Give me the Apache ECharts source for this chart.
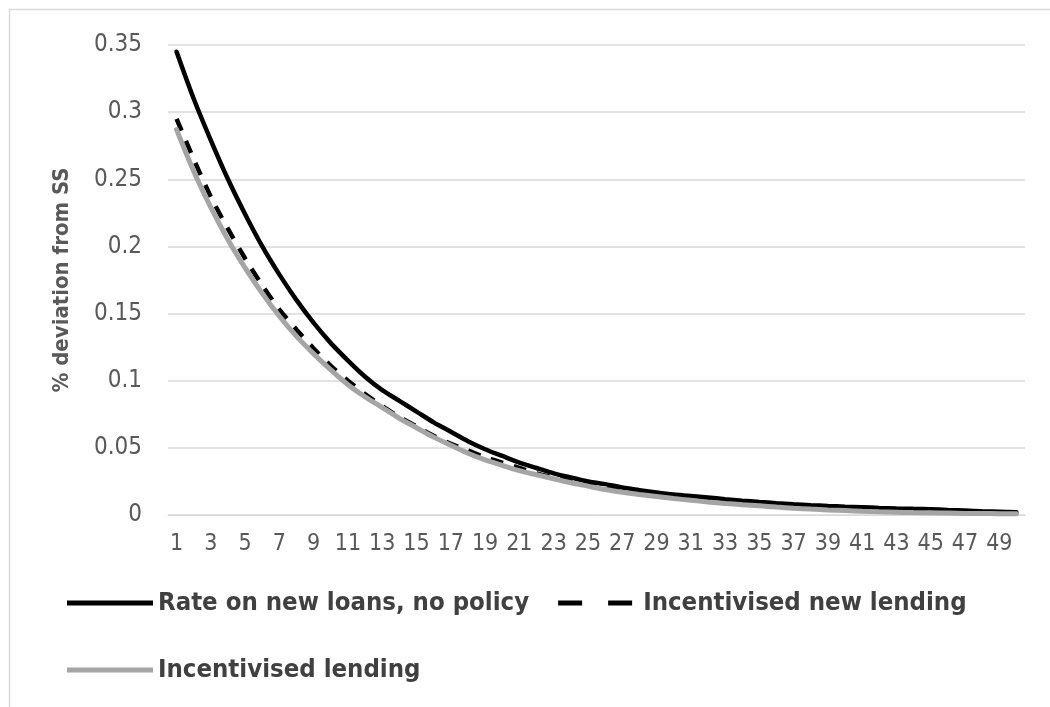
<!DOCTYPE html>
<html>
<head>
<meta charset="utf-8">
<script src="https://cdn.jsdelivr.net/npm/echarts@6/dist/echarts.min.js"></script>
<style>html,body{margin:0;padding:0;background:#fff}#c{width:1050px;height:707px}</style>
</head>
<body>
<div id="c"></div>
<script>
var categories = [];
for (var i = 1; i <= 50; i++) categories.push(String(i));

var yTicks = [0, 0.05, 0.1, 0.15, 0.2, 0.25, 0.3, 0.35];

var seriesNames = ['Rate on new loans, no policy', 'Incentivised new lending', 'Incentivised lending'];

var rateNoPolicy = [0.345, 0.310, 0.279, 0.250, 0.224, 0.200, 0.179, 0.160, 0.143, 0.128,
  0.115, 0.103, 0.093, 0.085, 0.077, 0.069, 0.062, 0.055, 0.049, 0.044,
  0.039, 0.035, 0.031, 0.028, 0.025, 0.023, 0.0205, 0.0185, 0.0167, 0.0152,
  0.0142, 0.013, 0.0118, 0.0107, 0.0097, 0.0088, 0.008, 0.0073, 0.0067, 0.0062,
  0.0058, 0.0053, 0.0049, 0.0046, 0.0043, 0.0038, 0.0033, 0.0028, 0.0024, 0.002];

var incentNewLending = [0.295, 0.265, 0.237, 0.213, 0.191, 0.171, 0.153, 0.138, 0.124, 0.111,
  0.100, 0.090, 0.081, 0.073, 0.066, 0.059, 0.053, 0.048, 0.043, 0.039,
  0.035, 0.031, 0.028, 0.025, 0.023, 0.020, 0.018, 0.016, 0.015, 0.013,
  0.012, 0.011, 0.0095, 0.0085, 0.0077, 0.007, 0.006, 0.0055, 0.005, 0.0045,
  0.004, 0.0036, 0.0032, 0.003, 0.0027, 0.0024, 0.0022, 0.002, 0.0018, 0.0016];

var incentLending = [0.287, 0.256, 0.229, 0.205, 0.184, 0.165, 0.148, 0.133, 0.120, 0.108,
  0.097, 0.088, 0.080, 0.072, 0.065, 0.058, 0.052, 0.046, 0.041, 0.037,
  0.033, 0.030, 0.027, 0.024, 0.0215, 0.019, 0.017, 0.0153, 0.0138, 0.0123,
  0.011, 0.0097, 0.0086, 0.0077, 0.0069, 0.0059, 0.0051, 0.0044, 0.0038, 0.0033,
  0.0028, 0.0024, 0.0021, 0.0018, 0.0016, 0.0014, 0.0012, 0.0011, 0.001, 0.001];

var FONT = '"DejaVu Sans Condensed", "Liberation Sans Narrow", "Open Sans", sans-serif';
var chart = echarts.init(document.getElementById('c'), null, {renderer: 'canvas'});
var legendText = {color: '#404040', fontSize: 25.5, fontWeight: 'bold', fontFamily: FONT};
var solidIcon = 'path://M0,0h86v5h-86z';
var dashIcon = 'path://M0,0h24v5h-24z M50,0h24v5h-24z';

chart.setOption({
  animation: false,
  backgroundColor: '#fff',
  graphic: [{
    type: 'rect', silent: true, z: -1,
    shape: {x: 9.5, y: 9.5, width: 1200, height: 900},
    style: {fill: 'none', stroke: '#d9d9d9', lineWidth: 1.5}
  }],
  grid: {left: 168, right: 25, top: 45, bottom: 192, containLabel: false},
  legend: [{
    data: [
      {name: seriesNames[0], icon: solidIcon},
      {name: seriesNames[1], icon: dashIcon}
    ],
    left: 67, top: 590, itemWidth: 86, itemHeight: 5, itemGap: 29,
    textStyle: legendText, padding: 0
  }, {
    data: [{name: seriesNames[2], icon: solidIcon}],
    left: 67, top: 657, itemWidth: 86, itemHeight: 5, itemGap: 29,
    textStyle: legendText, padding: 0
  }],
  xAxis: {
    type: 'category',
    data: categories,
    boundaryGap: true,
    axisLine: {lineStyle: {color: '#d9d9d9', width: 1}},
    axisTick: {show: false},
    axisLabel: {interval: 1, color: '#595959', fontSize: 23, fontFamily: FONT, margin: 18},
    splitLine: {show: false}
  },
  yAxis: {
    type: 'value',
    min: yTicks[0], max: yTicks[yTicks.length - 1], interval: 0.05,
    name: '% deviation from SS',
    nameLocation: 'middle', nameRotate: 90, nameGap: 95,
    nameTextStyle: {color: '#595959', fontSize: 22, fontWeight: 'bold', fontFamily: FONT},
    axisLine: {show: false},
    axisTick: {show: false},
    axisLabel: {color: '#595959', fontSize: 24, fontFamily: FONT, margin: 26},
    splitLine: {lineStyle: {color: '#d9d9d9', width: 1.5}}
  },
  series: [{
    name: seriesNames[0], type: 'line', data: rateNoPolicy,
    symbol: 'none', smooth: 0.3,
    lineStyle: {color: '#000000', width: 4.5, cap: 'round'},
    itemStyle: {color: '#000000'}
  }, {
    name: seriesNames[1], type: 'line', data: incentNewLending,
    symbol: 'none', smooth: 0.3,
    lineStyle: {color: '#000000', width: 4.5, type: [13, 11]},
    itemStyle: {color: '#000000'}
  }, {
    name: seriesNames[2], type: 'line', data: incentLending,
    symbol: 'none', smooth: 0.3,
    lineStyle: {color: '#a5a5a5', width: 5, cap: 'round'},
    itemStyle: {color: '#a5a5a5'}
  }]
});
</script>
</body>
</html>
